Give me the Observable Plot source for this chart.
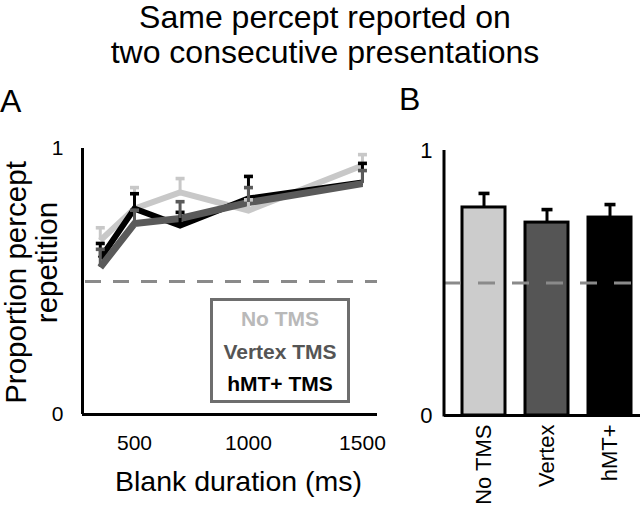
<!DOCTYPE html>
<html>
<head>
<meta charset="utf-8">
<script src="https://cdn.jsdelivr.net/npm/d3@7"></script>
<script src="https://cdn.jsdelivr.net/npm/@observablehq/plot@0.6"></script>
<style>
  html, body { margin: 0; padding: 0; background: #fff; }
  #wrap { position: relative; width: 640px; height: 506px; overflow: hidden;
          font-family: "Liberation Sans", Arial, Helvetica, sans-serif; color: #000; }
  .abs { position: absolute; white-space: nowrap; }
  .title { left: 10px; width: 630px; text-align: center; font-size: 32px; line-height: 35px; }
  .letter { font-size: 32px; line-height: 28px; }
  #legend { position: absolute; left: 210px; top: 298px; width: 140px; height: 105px;
            box-sizing: border-box; border: 3.5px solid #6e6e6e; background: #fff;
            padding-top: 2px; text-align: center; font-weight: bold; font-size: 21px; line-height: 32.5px; }
  #panelA, #panelB { position: absolute; top: 0; }
  #panelA { left: 0; } #panelB { left: 400px; }
</style>
</head>
<body>
<div id="wrap">
  <div id="panelA"></div>
  <div id="panelB"></div>
  <div class="abs title" style="top:0px">Same percept reported on<br>two consecutive presentations</div>
  <div class="abs letter" style="left:0px; top:87px">A</div>
  <div class="abs letter" style="left:399px; top:85px">B</div>
  <div id="legend"></div>
</div>
<script>
// ---------- data ----------
const durations = [350, 500, 700, 1000, 1500];          // blank duration (ms)
const seriesNames = ["No TMS", "Vertex TMS", "hMT+ TMS"];
const noTMSMean  = [0.654, 0.774, 0.835, 0.767, 0.936];
const noTMSErr   = [0.048, 0.079, 0.052, 0.040, 0.041];
const vertexMean = [0.553, 0.718, 0.737, 0.797, 0.868];
const vertexErr  = [0.068, 0.050, 0.063, 0.056, 0.049];
const hmtMean    = [0.586, 0.774, 0.710, 0.812, 0.872];
const hmtErr     = [0.057, 0.056, 0.050, 0.083, 0.072];

const conditions = ["No TMS", "Vertex", "hMT+"];
const barMean    = [0.785, 0.728, 0.747];
const barErr     = [0.053, 0.049, 0.049];

const chance = 0.5;
const xTicks = [500, 1000, 1500];
const yTicks = [0, 1];
const yLabelLines = ["Proportion percept", "repetition"];
const xLabel = "Blank duration (ms)";

// ---------- styles ----------
const lineColors  = ["#c8c8c8", "#5a5a5a", "#000000"];
const legendColors = ["#b9b9b9", "#555555", "#000000"];
const lineWidths  = [6, 7, 6];
const barColors   = ["#cccccc", "#555555", "#000000"];
const font = "'Liberation Sans', Arial, Helvetica, sans-serif";

// ---------- tidy rows ----------
const means = [noTMSMean, vertexMean, hmtMean];
const errs  = [noTMSErr, vertexErr, hmtErr];
const seriesRows = seriesNames.map((name, s) =>
  durations.map((d, i) => ({series: name, duration: d, mean: means[s][i], top: means[s][i] + errs[s][i]})));
const barRows = conditions.map((c, i) => ({cond: c, mean: barMean[i], top: barMean[i] + barErr[i], color: barColors[i]}));

// horizontal cap symbol for error bars
const capSymbol = {
  draw(ctx, size) {
    const r = Math.sqrt(size / Math.PI);
    ctx.rect(-r, -1.8, 2 * r, 3.6);
  }
};

// ---------- draw order: light gray, black, dark gray ----------
const drawOrder = [0, 2, 1];
const lineMarks = drawOrder.map(s => Plot.line(seriesRows[s], {
  x: "duration", y: "mean", stroke: lineColors[s], strokeWidth: lineWidths[s],
  strokeLinejoin: "miter", strokeLinecap: "butt", strokeMiterlimit: 4
}));
const errMarks = drawOrder.flatMap(s => [
  Plot.ruleX(seriesRows[s], {x: "duration", y1: "mean", y2: "top", stroke: lineColors[s], strokeWidth: 3}),
  Plot.dot(seriesRows[s], {x: "duration", y: "top", r: 4.5, symbol: capSymbol, fill: lineColors[s]})
]);

const xDomain = [272, 1566];

const plotA = Plot.plot({
  width: 400, height: 506,
  marginLeft: 82, marginRight: 23, marginTop: 148, marginBottom: 92,
  style: {fontFamily: font, fontSize: "21px", color: "#000", background: "transparent", overflow: "visible"},
  x: {domain: xDomain, ticks: xTicks, tickSize: 0, tickPadding: 21, label: null, tickFormat: d3.format("d")},
  y: {domain: [0, 1], ticks: yTicks, tickSize: 0, tickPadding: 19, label: null, tickFormat: d3.format("d")},
  marks: [
    Plot.ruleY([chance], {stroke: "#8a8a8a", strokeWidth: 3, strokeDasharray: "16,12", strokeDashoffset: -3}),
    ...lineMarks,
    ...errMarks,
    Plot.ruleX([xDomain[0]], {y1: 0, y2: 1, stroke: "#000", strokeWidth: 3}),
    Plot.ruleY([0], {stroke: "#000", strokeWidth: 3}),
    Plot.text([xLabel], {frameAnchor: "bottom", textAnchor: "middle", lineAnchor: "middle", dx: 8.5, dy: 67, fontSize: 28.5, text: d => d}),
    Plot.text([yLabelLines[0]], {frameAnchor: "left", textAnchor: "middle", lineAnchor: "middle", rotate: -90, dx: -66, dy: 1, fontSize: 29.5, text: d => d}),
    Plot.text([yLabelLines[1]], {frameAnchor: "left", textAnchor: "middle", lineAnchor: "middle", rotate: -90, dx: -35, dy: -19, fontSize: 29.5, text: d => d})
  ]
});
document.getElementById("panelA").appendChild(plotA);

// left axis line for panel B (band x scale), derived from the frame dimensions
function leftAxisLine(index, scales, values, dims) {
  const g = d3.create("svg:line")
    .attr("x1", dims.marginLeft).attr("x2", dims.marginLeft)
    .attr("y1", scales.y(0) + 1.5).attr("y2", scales.y(1))
    .attr("stroke", "#000").attr("stroke-width", 3);
  return g.node();
}

const plotB = Plot.plot({
  width: 240, height: 506,
  marginLeft: 44, marginRight: 0, marginTop: 150, marginBottom: 91,
  style: {fontFamily: font, fontSize: "22px", color: "#000", background: "transparent", overflow: "visible"},
  x: {domain: conditions, range: [62, 231], paddingInner: 0.32, paddingOuter: 0, tickSize: 0, tickPadding: 9, tickRotate: -90, label: null},
  y: {domain: [0, 1], ticks: yTicks, tickSize: 0, tickPadding: 12, label: null, tickFormat: d3.format("d")},
  color: {type: "identity"},
  marks: [
    Plot.barY(barRows, {x: "cond", y: "mean", fill: "color", stroke: "#000", strokeWidth: 3}),
    Plot.ruleX(barRows, {x: "cond", y1: "mean", y2: "top", stroke: "#000", strokeWidth: 3}),
    Plot.dot(barRows, {x: "cond", y: "top", r: 5.5, symbol: capSymbol, fill: "#000"}),
    Plot.ruleY([chance], {stroke: "#8a8a8a", strokeWidth: 3, strokeDasharray: "17,17", strokeDashoffset: 0}),
    Plot.ruleY([0], {stroke: "#000", strokeWidth: 3}),
    leftAxisLine
  ]
});
document.getElementById("panelB").appendChild(plotB);

// legend (HTML, from series names)
const legend = d3.select("#legend");
seriesNames.forEach((name, i) => {
  legend.append("div").style("color", legendColors[i]).text(name);
});
</script>
</body>
</html>
